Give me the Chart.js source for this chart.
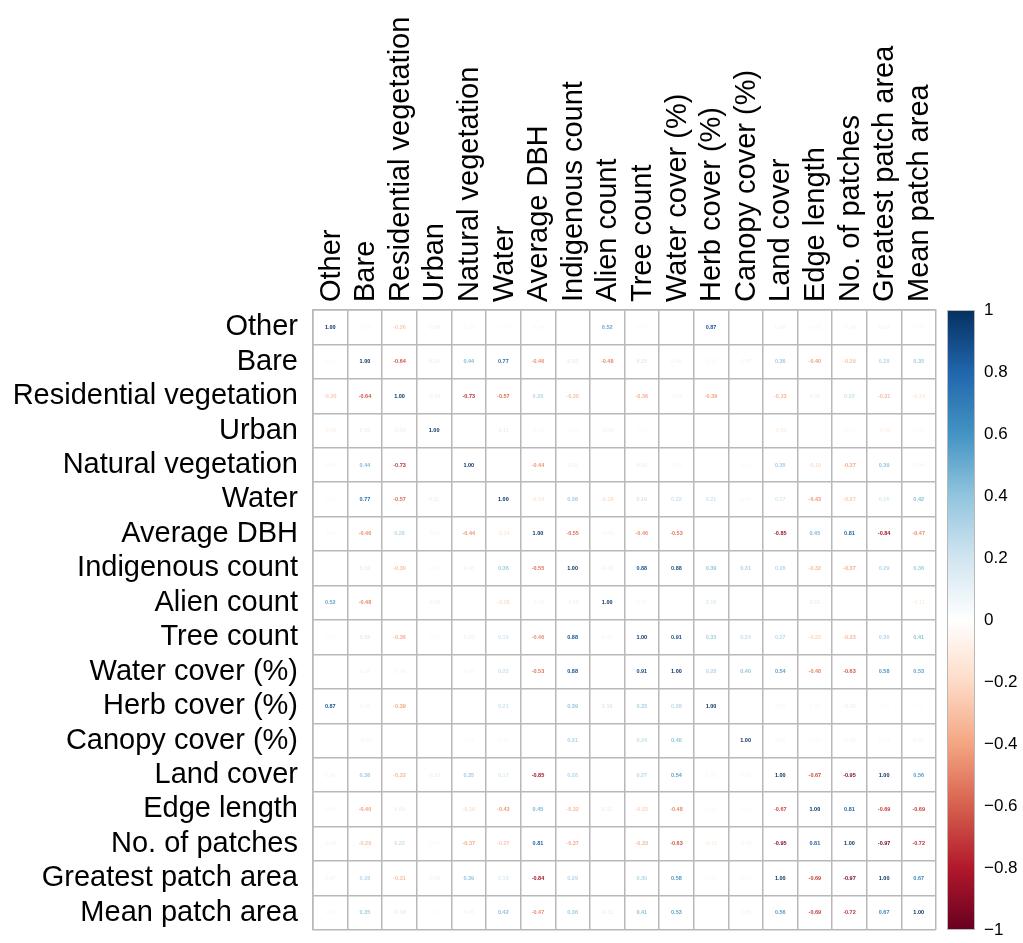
<!DOCTYPE html>
<html>
<head>
<meta charset="utf-8">
<script src="https://cdn.jsdelivr.net/npm/chart.js@4.4.1/dist/chart.umd.min.js"></script>
<style>
  html, body { margin: 0; padding: 0; background: #ffffff; }
  canvas { display: block; }
</style>
</head>
<body>
<canvas id="corr" width="1023" height="943"></canvas>
<script>
// Variables of the correlation matrix (same order on both axes)
const variables = [
  'Other', 'Bare', 'Residential vegetation', 'Urban', 'Natural vegetation', 'Water',
  'Average DBH', 'Indigenous count', 'Alien count', 'Tree count', 'Water cover (%)',
  'Herb cover (%)', 'Canopy cover (%)', 'Land cover', 'Edge length', 'No. of patches',
  'Greatest patch area', 'Mean patch area'
];

// Pearson correlation coefficients, one row per variable (null = not shown)
const rOther       = [ 1.00,  0.04, -0.26, -0.08, -0.05, -0.03, -0.04,  null,  0.52, -0.03,  null,  0.87,  null,  0.06, -0.05, -0.06,  0.07, -0.04];
const rBare        = [ 0.04,  1.00, -0.64,  0.10,  0.44,  0.77, -0.46,  0.12, -0.48,  0.15,  0.06,  0.05, -0.07,  0.36, -0.40, -0.29,  0.28,  0.35];
const rResidential = [-0.26, -0.64,  1.00, -0.09, -0.73, -0.57,  0.28, -0.30,  null, -0.36, -0.06, -0.39,  null, -0.33,  0.09,  0.22, -0.31, -0.14];
const rUrban       = [-0.08,  0.10, -0.09,  1.00,  null,  0.11, -0.05, -0.04, -0.08,  0.03,  null,  null,  null, -0.10,  null, -0.04, -0.08,  0.03];
const rNatural     = [-0.05,  0.44, -0.73,  null,  1.00,  null, -0.44,  0.08,  null,  0.10,  0.05,  null,  0.04,  0.35, -0.19, -0.37,  0.39,  0.06];
const rWater       = [-0.03,  0.77, -0.57,  0.11,  null,  1.00, -0.14,  0.36, -0.18,  0.19,  0.22,  0.21,  0.05,  0.17, -0.43, -0.27,  0.16,  0.42];
const rAvgDBH      = [-0.04, -0.46,  0.28, -0.05, -0.44, -0.14,  1.00, -0.55, -0.06, -0.46, -0.53,  null,  null, -0.85,  0.45,  0.81, -0.84, -0.47];
const rIndigenous  = [ null,  0.12, -0.30, -0.04,  0.08,  0.36, -0.55,  1.00, -0.08,  0.88,  0.88,  0.39,  0.31,  0.28, -0.32, -0.37,  0.29,  0.36];
const rAlien       = [ 0.52, -0.48,  null, -0.08,  null, -0.18, -0.06, -0.08,  1.00,  0.05,  null,  0.16,  null,  null,  0.11,  null,  null, -0.11];
const rTree        = [-0.03,  0.15, -0.36,  0.03,  0.10,  0.19, -0.46,  0.88,  0.05,  1.00,  0.91,  0.33,  0.24,  0.27, -0.22, -0.33,  0.30,  0.41];
const rWaterCover  = [ null,  0.06, -0.06,  null,  0.05,  0.22, -0.53,  0.88,  null,  0.91,  1.00,  0.28,  0.40,  0.54, -0.48, -0.63,  0.58,  0.53];
const rHerb        = [ 0.87,  0.05, -0.39,  null,  null,  0.21,  null,  0.39,  0.16,  0.33,  0.28,  1.00,  null,  0.05,  0.04, -0.10,  0.03,  0.02];
const rCanopy      = [ null, -0.07,  null,  null,  0.04,  0.05,  null,  0.31,  null,  0.24,  0.40,  null,  1.00,  0.05, -0.03, -0.06,  0.04,  0.06];
const rLandCover   = [ 0.06,  0.36, -0.33, -0.10,  0.35,  0.17, -0.85,  0.28,  null,  0.27,  0.54,  0.05,  0.05,  1.00, -0.67, -0.95,  1.00,  0.56];
const rEdge        = [-0.05, -0.40,  0.09,  null, -0.19, -0.43,  0.45, -0.32,  0.11, -0.22, -0.48,  0.04, -0.03, -0.67,  1.00,  0.81, -0.69, -0.69];
const rPatches     = [-0.06, -0.29,  0.22, -0.04, -0.37, -0.27,  0.81, -0.37,  null, -0.33, -0.63, -0.10, -0.06, -0.95,  0.81,  1.00, -0.97, -0.72];
const rGreatest    = [ 0.07,  0.28, -0.31, -0.08,  0.39,  0.16, -0.84,  0.29,  null,  0.30,  0.58,  0.03,  0.04,  1.00, -0.69, -0.97,  1.00,  0.67];
const rMeanPatch   = [-0.04,  0.35, -0.14,  0.03,  0.06,  0.42, -0.47,  0.36, -0.11,  0.41,  0.53,  0.02,  0.06,  0.56, -0.69, -0.72,  0.67,  1.00];

const matrixRows = [rOther, rBare, rResidential, rUrban, rNatural, rWater, rAvgDBH, rIndigenous,
  rAlien, rTree, rWaterCover, rHerb, rCanopy, rLandCover, rEdge, rPatches, rGreatest, rMeanPatch];

// Colour key ticks
const keyTicks = [1, 0.8, 0.6, 0.4, 0.2, 0, -0.2, -0.4, -0.6, -0.8, -1];

// Diverging red-white-blue ramp from -1 to 1
const ramp = ['#67001F', '#B2182B', '#D6604D', '#F4A582', '#FDDBC7', '#FFFFFF',
              '#D1E5F0', '#92C5DE', '#4393C3', '#2166AC', '#053061'];

function hexToRgb(h) {
  return [parseInt(h.slice(1, 3), 16), parseInt(h.slice(3, 5), 16), parseInt(h.slice(5, 7), 16)];
}
function corrColor(v) {
  const t = (Math.max(-1, Math.min(1, v)) + 1) / 2 * (ramp.length - 1);
  const i = Math.min(ramp.length - 2, Math.floor(t));
  const f = t - i;
  const a = hexToRgb(ramp[i]), b = hexToRgb(ramp[i + 1]);
  const c = a.map((ch, k) => Math.round(ch + (b[k] - ch) * f));
  return `rgb(${c[0]},${c[1]},${c[2]})`;
}

// One point per non-empty cell
const cells = [];
variables.forEach((rowName, i) => {
  matrixRows[i].forEach((v, j) => {
    if (v !== null) cells.push({ x: variables[j], y: rowName, v: v });
  });
});

const FONT = '"Liberation Sans", Arial, Helvetica, sans-serif';
const GRID = '#b8b8b8';
const LABEL_SIZE = 29;

// Fixed axis sizes; label overhang must not shrink the grid
function fixBox(width, height) {
  return (s) => {
    if (width !== null) s.width = width;
    if (height !== null) s.height = height;
    s.paddingTop = 0; s.paddingBottom = 0; s.paddingLeft = 0; s.paddingRight = 0;
  };
}

// Writes each coefficient at its cell centre
const cellNumbers = {
  id: 'cellNumbers',
  afterDatasetsDraw(chart) {
    const ctx = chart.ctx;
    const meta = chart.getDatasetMeta(0);
    ctx.save();
    ctx.font = 'bold 5.5px ' + FONT;
    ctx.textAlign = 'center';
    ctx.textBaseline = 'middle';
    meta.data.forEach((el, k) => {
      const v = cells[k].v;
      ctx.fillStyle = corrColor(v);
      ctx.fillText(v.toFixed(2), el.x, el.y);
    });
    ctx.restore();
  }
};

// Colour key bar drawn against the key axis
const colourKey = {
  id: 'colourKey',
  afterDraw(chart) {
    const s = chart.scales.key;
    const top = s.getPixelForValue(1);
    const bottom = s.getPixelForValue(-1);
    const x0 = s.left + 11;
    const w = 28;
    const ctx = chart.ctx;
    ctx.save();
    const g = ctx.createLinearGradient(0, bottom, 0, top);
    ramp.forEach((c, i) => g.addColorStop(i / (ramp.length - 1), c));
    ctx.fillStyle = g;
    ctx.fillRect(x0, top, w, bottom - top);
    ctx.strokeStyle = GRID;
    ctx.lineWidth = 1;
    ctx.strokeRect(x0 + 0.5, top + 0.5, w - 1, bottom - top - 1);
    ctx.restore();
  }
};

new Chart(document.getElementById('corr'), {
  type: 'scatter',
  data: {
    datasets: [{
      data: cells,
      pointRadius: 0,
      pointHoverRadius: 0
    }]
  },
  options: {
    responsive: false,
    animation: false,
    events: [],
    layout: { padding: { top: 0, left: 0, right: 0, bottom: 13 } },
    plugins: { legend: { display: false }, tooltip: { enabled: false } },
    scales: {
      x: {
        type: 'category',
        labels: variables,
        position: 'top',
        offset: true,
        grid: { offset: true, color: GRID, lineWidth: 1.5, drawTicks: false },
        border: { color: GRID, width: 1.5 },
        ticks: {
          autoSkip: false, minRotation: 90, maxRotation: 90, padding: 8,
          labelOffset: 36,
          color: '#000', font: { family: FONT, size: LABEL_SIZE }
        },
        afterFit: fixBox(null, 310)
      },
      y: {
        type: 'category',
        labels: variables,
        offset: true,
        grid: { offset: true, color: GRID, lineWidth: 1.5, drawTicks: false },
        border: { color: GRID, width: 1.5 },
        ticks: {
          autoSkip: false, padding: 15,
          color: '#000', font: { family: FONT, size: LABEL_SIZE }
        },
        afterFit: fixBox(313, null)
      },
      key: {
        type: 'linear',
        position: 'right',
        min: -1, max: 1,
        grid: {
          display: true, drawOnChartArea: false, drawTicks: true,
          tickLength: 46, color: 'rgba(0,0,0,0)'
        },
        border: { display: false },
        ticks: {
          stepSize: 0.2, padding: 2, color: '#000',
          font: { family: FONT, size: 17 },
          callback: (v) => {
            const r = Math.round(v * 10) / 10;
            if (!keyTicks.includes(r)) return '';
            return r === 0 ? '0' : String(r).replace('-', '\u2212');
          }
        },
        afterFit: fixBox(87, null)
      }
    }
  },
  plugins: [cellNumbers, colourKey]
});
</script>
</body>
</html>
